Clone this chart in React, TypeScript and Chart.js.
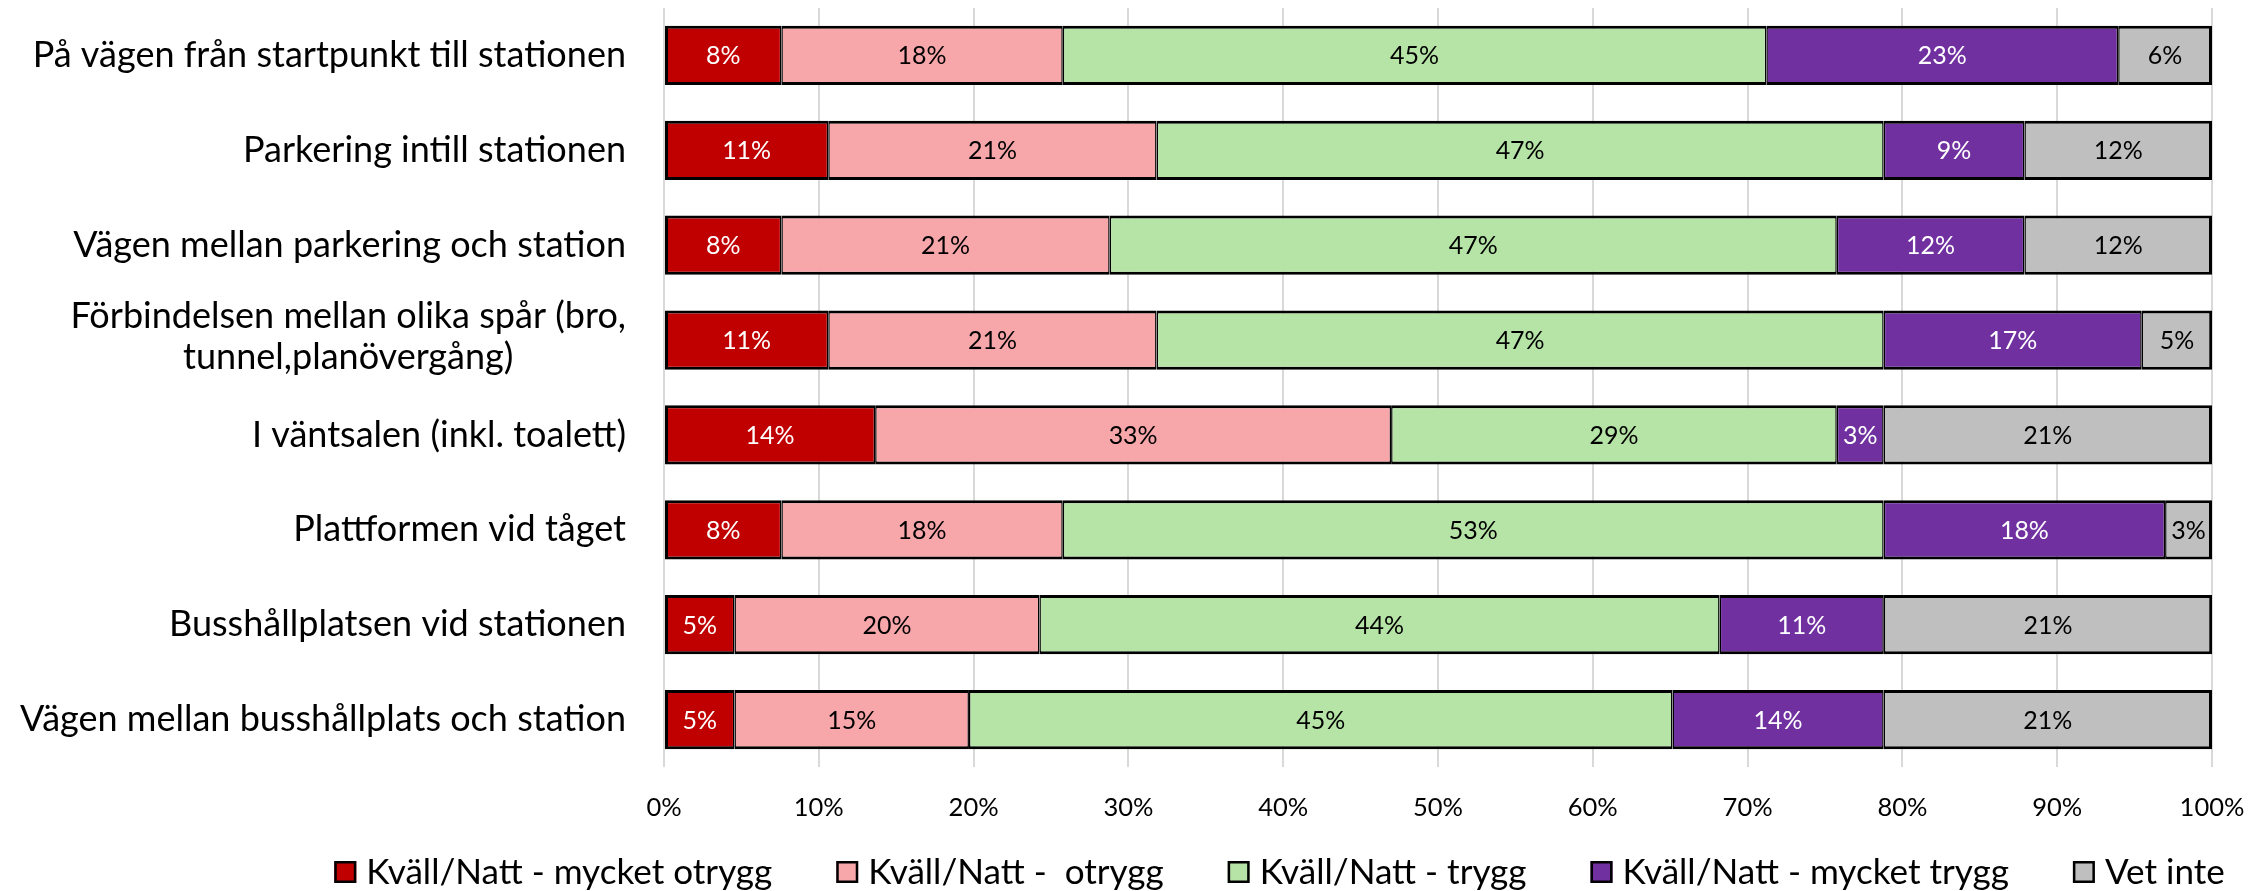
import { useEffect, useRef } from 'react';
import { Chart, registerables } from 'chart.js';

Chart.register(...registerables);

const categories: (string | string[])[] = [
  'På vägen från startpunkt till stationen',
  'Parkering intill stationen',
  'Vägen mellan parkering och station',
  ['Förbindelsen mellan olika spår (bro,', 'tunnel,planövergång)'],
  'I väntsalen (inkl. toalett)',
  'Plattformen vid tåget',
  'Busshållplatsen vid stationen',
  'Vägen mellan busshållplats och station',
];

const seriesNames = [
  'Kväll/Natt - mycket otrygg',
  'Kväll/Natt -  otrygg',
  'Kväll/Natt - trygg',
  'Kväll/Natt - mycket trygg',
  'Vet inte',
];

const mycketOtrygg = [7.58, 10.61, 7.58, 10.61, 13.64, 7.58, 4.55, 4.55];
const otrygg = [18.18, 21.21, 21.21, 21.21, 33.33, 18.18, 19.7, 15.15];
const trygg = [45.45, 46.97, 46.97, 46.97, 28.79, 53.03, 43.94, 45.45];
const mycketTrygg = [22.73, 9.09, 12.12, 16.67, 3.03, 18.18, 10.61, 13.64];
const vetInte = [6.06, 12.12, 12.12, 4.55, 21.21, 3.03, 21.21, 21.21];

const seriesValues = [mycketOtrygg, otrygg, trygg, mycketTrygg, vetInte];
const seriesColors = ['#C00000', '#F7A6AA', '#B5E4A6', '#7030A0', '#BFBFBF'];
const labelColors = ['#FFFFFF', '#000000', '#000000', '#FFFFFF', '#000000'];

const xTickLabels = ['0%', '10%', '20%', '30%', '40%', '50%', '60%', '70%', '80%', '90%', '100%'];

const FAMILY = 'Lato';
const W = 2252;
const H = 891;

function fitSize(text: string, target: number): number {
  const c = document.createElement('canvas').getContext('2d')!;
  c.font = `100px ${FAMILY}`;
  return (100 * target) / c.measureText(text).width;
}

export default function App() {
  const ref = useRef<HTMLCanvasElement | null>(null);

  useEffect(() => {
    document.body.style.margin = '0';
    document.body.style.overflow = 'hidden';
    const canvas = ref.current!;
    const catSize = fitSize('Vägen mellan busshållplats och station', 606);
    const legendSize = fitSize('Kväll/Natt - mycket otrygg', 406);
    const tickSize = fitSize('10%', 50);
    const dataSize = fitSize('18%', 49);

    const yLabelPlugin = {
      id: 'yLabels',
      afterDraw(chart: any) {
        const ctx = chart.ctx;
        const ys = chart.scales.y;
        ctx.save();
        ctx.font = `${catSize}px ${FAMILY}`;
        ctx.fillStyle = '#000';
        ctx.textBaseline = 'middle';
        const rightX = chart.chartArea.left - 38;
        const lh = catSize * 1.14;
        categories.forEach((lab, i) => {
          const cy = ys.getPixelForValue(i);
          const lines = Array.isArray(lab) ? lab : [lab];
          const widths = lines.map((l) => ctx.measureText(l).width);
          const maxW = Math.max(...widths);
          const cx = rightX - maxW / 2;
          ctx.textAlign = 'center';
          const shift = lines.length > 1 ? -3 : 0;
          lines.forEach((l, k) => {
            const y = cy + shift + (k - (lines.length - 1) / 2) * lh;
            ctx.fillText(l, cx, y);
          });
        });
        ctx.restore();
      },
    };

    const dataLabelPlugin = {
      id: 'dataLabels',
      afterDatasetsDraw(chart: any) {
        const ctx = chart.ctx;
        ctx.save();
        ctx.font = `${dataSize}px ${FAMILY}`;
        ctx.textAlign = 'center';
        ctx.textBaseline = 'middle';
        chart.data.datasets.forEach((ds: any, di: number) => {
          const meta = chart.getDatasetMeta(di);
          meta.data.forEach((el: any, i: number) => {
            const v = ds.data[i];
            if (v == null) return;
            ctx.fillStyle = labelColors[di];
            ctx.fillText(Math.round(v) + '%', (el.x + el.base) / 2, el.y + 1);
          });
        });
        ctx.restore();
      },
    };

    const legendPlugin = {
      id: 'customLegend',
      afterDraw(chart: any) {
        const ctx = chart.ctx;
        ctx.save();
        ctx.font = `${legendSize}px ${FAMILY}`;
        const box = 22;
        const gapBox = 10;
        const gapItem = 64;
        const widths = seriesNames.map((n) => ctx.measureText(n).width);
        const total =
          widths.reduce((a, w) => a + box + gapBox + w, 0) + gapItem * (seriesNames.length - 1);
        let x = 1279.5 - total / 2;
        const cy = 872;
        seriesNames.forEach((n, i) => {
          ctx.fillStyle = seriesColors[i];
          ctx.fillRect(x, cy - box / 2, box, box);
          ctx.strokeStyle = '#000';
          ctx.lineWidth = 2.5;
          ctx.strokeRect(x + 1.25, cy - box / 2 + 1.25, box - 2.5, box - 2.5);
          ctx.fillStyle = '#000';
          ctx.textAlign = 'left';
          ctx.textBaseline = 'middle';
          ctx.fillText(n, x + box + gapBox, cy + 1);
          x += box + gapBox + widths[i] + gapItem;
        });
        ctx.restore();
      },
    };

    const n = seriesNames.length;
    const chart = new Chart(canvas, {
      type: 'bar',
      data: {
        labels: categories.map((c) => (Array.isArray(c) ? c.join(' ') : c)),
        datasets: seriesNames.map((name, i) => ({
          label: name,
          data: seriesValues[i],
          backgroundColor: seriesColors[i],
          borderColor: '#000000',
          borderWidth: {
            left: i === 0 ? 3 : 1.5,
            right: i === n - 1 ? 3 : 1.5,
            top: 3,
            bottom: 3,
          },
          borderSkipped: false,
          barPercentage: 0.625,
          categoryPercentage: 1,
        })),
      },
      options: {
        indexAxis: 'y',
        responsive: false,
        animation: false,
        events: [],
        layout: { padding: { left: 0, right: 40, top: 8, bottom: 54 } },
        plugins: {
          legend: { display: false },
          tooltip: { enabled: false },
        },
        scales: {
          x: {
            stacked: true,
            min: 0,
            max: 100,
            afterFit: (s: any) => {
              s.height = 70;
              s.paddingLeft = 0;
              s.paddingRight = 0;
            },
            afterBuildTicks: (s: any) => {
              s.ticks = xTickLabels.map((_, i) => ({ value: i * 10 }));
            },
            ticks: {
              callback: (_v: any, i: number) => xTickLabels[i],
              font: { family: FAMILY, size: tickSize },
              color: '#000',
              padding: 25,
              maxRotation: 0,
              autoSkip: false,
            },
            grid: { color: '#D9D9D9', lineWidth: 2, drawTicks: false },
            border: { display: false },
          },
          y: {
            stacked: true,
            afterFit: (s: any) => {
              s.width = 664;
            },
            ticks: { display: false },
            grid: { display: false },
            border: { display: false },
          },
        },
      },
      plugins: [yLabelPlugin, dataLabelPlugin, legendPlugin],
    });
    return () => chart.destroy();
  }, []);

  return (
    <div style={{ width: W, height: H }}>
      <canvas ref={ref} width={W} height={H} style={{ display: 'block' }} />
    </div>
  );
}
